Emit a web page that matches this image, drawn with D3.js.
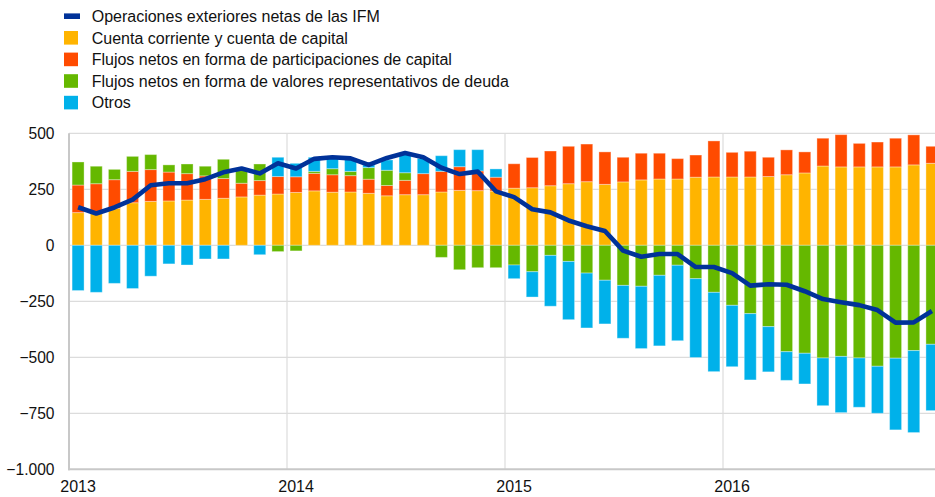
<!DOCTYPE html>
<html>
<head>
<meta charset="utf-8">
<script src="https://cdn.jsdelivr.net/npm/d3@7"></script>
<style>
  html, body { margin: 0; padding: 0; background: #fff; }
  svg { display: block; font-family: Arial, "Liberation Sans", sans-serif; }
</style>
</head>
<body>
<svg id="chart" width="935" height="497"></svg>
<script>
// Monthly periods, Jan 2013 – Dec 2016
const months = [
  "2013-01","2013-02","2013-03","2013-04","2013-05","2013-06","2013-07","2013-08","2013-09","2013-10","2013-11","2013-12",
  "2014-01","2014-02","2014-03","2014-04","2014-05","2014-06","2014-07","2014-08","2014-09","2014-10","2014-11","2014-12",
  "2015-01","2015-02","2015-03","2015-04","2015-05","2015-06","2015-07","2015-08","2015-09","2015-10","2015-11","2015-12",
  "2016-01","2016-02","2016-03","2016-04","2016-05","2016-06","2016-07","2016-08","2016-09","2016-10","2016-11","2016-12"
];

// Cuenta corriente y cuenta de capital
const cuentaCorriente = [
  146, 143, 165, 190, 196, 198, 202, 205, 210, 216, 224, 229,
  236, 243, 237, 238, 232, 221, 226, 226, 238, 245, 244, 242,
  255, 257, 266, 275, 284, 272, 283, 292, 296, 296, 304, 305,
  305, 305, 307, 315, 323, 354, 350, 350, 350, 350, 359, 366
];

// Flujos netos en forma de participaciones de capital
const participaciones = [
  123, 132, 128, 140, 142, 129, 118, 105, 88, 61, 65, 78,
  70, 78, 78, 73, 63, 46, 64, 94, 92, 106, 88, 62,
  109, 135, 155, 167, 168, 145, 110, 119, 115, 91, 99, 161,
  110, 115, 86, 111, 94, 124, 144, 105, 111, 128, 134, 76
];

// Flujos netos en forma de valores representativos de deuda
const valoresDeuda = [
  103, 78, 46, 67, 67, 32, 43, 43, 86, 64, 74, -28,
  -25, 9, 27, 19, 52, 68, 34, 0, -54, -109, -100, -100,
  -88, -118, -45, -72, -124, -156, -179, -183, -134, -89, -149, -210,
  -268, -305, -363, -475, -482, -503, -496, -503, -540, -504, -470, -442
];

// Otros
const otros = [
  -202, -210, -170, -193, -138, -83, -88, -61, -61, 0, -42, 86,
  60, 63, 46, 58, 12, 46, 82, 68, 70, 76, 95, 37,
  -61, -113, -227, -260, -245, -195, -236, -278, -315, -337, -352, -354,
  -274, -296, -202, -128, -137, -213, -251, -220, -210, -320, -366, -296
];

// Operaciones exteriores netas de las IFM
const operacionesIFM = [
  170, 142, 169, 204, 268, 277, 277, 295, 326, 343, 321, 366,
  343, 386, 393, 388, 359, 390, 412, 393, 346, 318, 329, 241,
  215, 161, 147, 111, 85, 64, -24, -51, -39, -39, -97, -97,
  -124, -180, -174, -176, -205, -240, -254, -267, -289, -345, -344, -293
];

const yTicks = [500, 250, 0, -250, -500, -750, -1000];
const yearLabels = ["2013", "2014", "2015", "2016"];

const seriesKeys = ["cc", "eq", "debt", "other"];
const seriesNames = {
  line: "Operaciones exteriores netas de las IFM",
  cc: "Cuenta corriente y cuenta de capital",
  eq: "Flujos netos en forma de participaciones de capital",
  debt: "Flujos netos en forma de valores representativos de deuda",
  other: "Otros"
};
const colors = {
  line: "#003299",
  cc: "#FFB400",
  eq: "#FF4B00",
  debt: "#65B800",
  other: "#00B1EA"
};

const rows = months.map((m, i) => ({
  month: m,
  cc: cuentaCorriente[i],
  eq: participaciones[i],
  debt: valoresDeuda[i],
  other: otros[i],
  net: operacionesIFM[i]
}));

const svg = d3.select("#chart");
const plotLeft = 69, plotRight = 941, plotTop = 133.3, plotBottom = 469.3;
const textColor = "#111";

const x = d3.scaleBand()
  .domain(months)
  .range([plotLeft, plotRight])
  .paddingInner(0.34)
  .paddingOuter(0.17);

const y = d3.scaleLinear()
  .domain([-1000, 500])
  .range([plotBottom, plotTop]);

const fmt = v => d3.format(",")(v).replace(/,/g, ".");

// Grid
const grid = svg.append("g");
grid.selectAll("line.h")
  .data(yTicks.filter(t => t !== -1000))
  .join("line")
  .attr("x1", plotLeft).attr("x2", plotRight)
  .attr("y1", d => y(d)).attr("y2", d => y(d))
  .attr("stroke", "#dcdcdc").attr("stroke-width", 1.2);

const yearStart = yr => x(yr + "-01") - x.step() * x.paddingInner() / 2;
grid.selectAll("line.v")
  .data(yearLabels.slice(1))
  .join("line")
  .attr("x1", d => yearStart(d)).attr("x2", d => yearStart(d))
  .attr("y1", plotTop).attr("y2", plotBottom)
  .attr("stroke", "#dcdcdc").attr("stroke-width", 1.2);

// Stacked bars
const stack = d3.stack().keys(seriesKeys).offset(d3.stackOffsetDiverging);
const layers = stack(rows);

svg.append("g")
  .selectAll("g")
  .data(layers)
  .join("g")
  .attr("fill", d => colors[d.key])
  .selectAll("rect")
  .data(d => d)
  .join("rect")
  .attr("x", d => x(d.data.month))
  .attr("width", x.bandwidth())
  .attr("y", d => y(Math.max(d[0], d[1])))
  .attr("height", d => Math.abs(y(d[0]) - y(d[1])))
  .attr("stroke", "rgba(255,255,255,0.35)")
  .attr("stroke-width", 1);

// Axes
const yAxis = svg.append("g");
yAxis.append("line")
  .attr("x1", plotLeft).attr("x2", plotLeft)
  .attr("y1", plotTop).attr("y2", plotBottom + 1)
  .attr("stroke", "#c8c8c8").attr("stroke-width", 2);
yAxis.selectAll("text")
  .data(yTicks)
  .join("text")
  .attr("x", 54.5)
  .attr("y", d => y(d))
  .attr("dy", "0.36em")
  .attr("text-anchor", "end")
  .attr("font-size", 15.6)
  .attr("fill", textColor)
  .text(fmt);

const xAxis = svg.append("g");
xAxis.append("line")
  .attr("x1", plotLeft - 1).attr("x2", plotRight)
  .attr("y1", plotBottom).attr("y2", plotBottom)
  .attr("stroke", "#c8c8c8").attr("stroke-width", 2);
xAxis.selectAll("text")
  .data(yearLabels)
  .join("text")
  .attr("x", d => x(d + "-01") + x.bandwidth() / 2)
  .attr("y", 492.3)
  .attr("text-anchor", "middle")
  .attr("font-size", 16)
  .attr("fill", textColor)
  .text(d => d);

// Net MFI line
const line = d3.line()
  .x(d => x(d.month) + x.bandwidth() / 2)
  .y(d => y(d.net));
svg.append("path")
  .datum(rows)
  .attr("d", line)
  .attr("fill", "none")
  .attr("stroke", colors.line)
  .attr("stroke-width", 4.6)
  .attr("stroke-linejoin", "round");

// Legend
const legendItems = ["line", "cc", "eq", "debt", "other"];
const legend = svg.append("g");
legendItems.forEach((k, i) => {
  const cy = 16.2 + i * 21.6;
  if (k === "line") {
    legend.append("rect")
      .attr("x", 64).attr("y", cy - 2.8)
      .attr("width", 16).attr("height", 5.6)
      .attr("fill", colors[k]);
  } else {
    legend.append("rect")
      .attr("x", 64).attr("y", cy - 6.8)
      .attr("width", 14).attr("height", 13.6)
      .attr("fill", colors[k]);
  }
  legend.append("text")
    .attr("x", 91.7)
    .attr("y", cy)
    .attr("dy", "0.36em")
    .attr("font-size", 16)
    .attr("fill", textColor)
    .text(seriesNames[k]);
});
</script>
</body>
</html>
